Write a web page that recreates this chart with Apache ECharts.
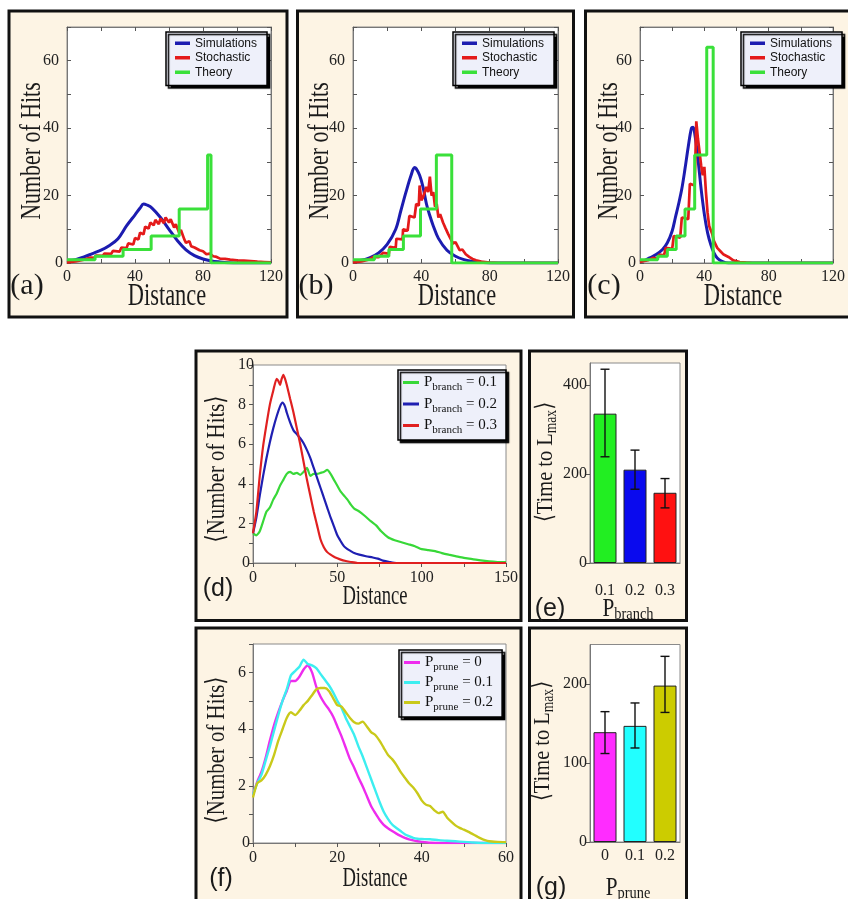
<!DOCTYPE html>
<html><head><meta charset="utf-8">
<script src="https://cdn.jsdelivr.net/npm/echarts@6/dist/echarts.min.js"></script>
<style>html,body{margin:0;padding:0;background:#fff}#c{width:848px;height:899px}</style>
</head><body><div id="c"></div>
<script>
// ---------------- DATA ----------------
// Panels (a)-(c): Number of Hits vs Distance
const simA = [[0,0.8],[5,1],[10,1.8],[15,2.8],[20,3.8],[25,5.2],[30,7.2],[35,11],[40,14.3],[43,16.3],[45,17.5],[47,17.2],[50,16.3],[55,13.5],[60,10],[65,6.6],[70,3.9],[75,2.2],[80,1.2],[85,0.6],[90,0.3],[95,0.1],[100,0],[120,0]];
const stoA = [[0,0.2],[5,0.5],[10,1],[14,1.6],[16,1.5],[17,2.2],[21,2.1],[22,2.8],[26,2.7],[27,3.6],[31,3.4],[32,4.6],[35,4.4],[36,5.8],[39,5.5],[40,7.4],[42,7],[43,9],[45,8.5],[46,10.8],[48,10.2],[49,12],[51,11.2],[52,12.8],[54,11.5],[55,13.2],[57,11.8],[58,13.5],[60,12],[61,13],[63,10.5],[64,11.5],[66,9],[67,9.8],[69,7],[70,6],[72,6.5],[73,5],[75,4.6],[76,4.8],[78,3.8],[80,3.5],[82,2.6],[84,2.8],[86,2],[88,1.8],[90,1.3],[93,1.2],[96,1],[100,0.8],[104,0.7],[108,0.6],[112,0.4],[116,0.3],[120,0.2]];
const theA = [[0,1],[16.5,2],[33,4],[49.5,8],[66,16],[82.7,32],[84.7,0],[120,0]];

const simB = [[0,0.5],[5,0.8],[10,1.6],[15,3],[20,5.5],[25,10],[28,15.5],[31,21],[34,26],[36,28.3],[37,28],[39,26],[41,22.5],[43,17.5],[45,14],[47,11],[50,7.3],[55,3.8],[60,2],[65,1],[70,0.5],[75,0.2],[80,0],[120,0]];
const stoB = [[0,0.2],[5,0.5],[9,1],[12,1.8],[15,1.7],[17.5,3],[21,2.8],[21.5,4.8],[25,4.5],[25.4,7.2],[29,7],[29.3,10],[32,9.6],[33,14],[36,13.5],[37,17.5],[38.5,17],[39,23],[40,18.6],[41,19.5],[43,22.6],[44,21],[45,25.6],[46,20],[47,21],[48,16.7],[49,17.5],[50,13.5],[51,14.5],[52.7,12],[54,10.5],[55.6,8.7],[56.5,9.2],[58.5,5.8],[60,6.2],[62.4,3.8],[64,4],[66,2.6],[68,1.8],[70,1.2],[72,0.8],[75,0.4],[80,0.1],[85,0],[120,0]];
const theB = [[0,1],[12.5,2],[21,4],[29.5,8],[39.5,16],[48.8,32],[57.8,0],[120,0]];

const simC = [[0,0.5],[3,0.8],[6,1.5],[10,2.5],[14,4],[17,6],[20,9.5],[22,13.5],[24,17.5],[26,22],[28,28],[30,34.5],[32,40],[33,40.3],[34,38.5],[36,31],[38,22],[40,14.5],[42,9],[44,5.5],[46,3],[48,1.5],[51,0.5],[55,0],[120,0]];
const stoC = [[0,0.3],[5,0.8],[8,1.5],[11,1.3],[12,2.5],[15,2.3],[16,4.5],[20,4.2],[21,8],[25,7.5],[26,13.5],[30,13],[31,23.5],[34,23],[35,42],[36,37],[37,33],[38,29],[39,26],[40,28.5],[41,21],[42,15],[43,11],[44,10.5],[45,8.5],[46,6.5],[47,6],[48,4.5],[50,3.5],[52,2.5],[55,1.8],[58,0.8],[62,0.3],[66,0.1],[70,0],[120,0]];
const theC = [[0,1],[11,2],[17,4],[22.5,8],[28,16],[34,32],[41.5,64],[45.5,0],[120,0]];

// Panel (d): <Number of Hits> vs Distance for P_branch
const dB1 = [[0,1.5],[2,1.4],[4,1.6],[6,2.1],[8,2.6],[10,2.8],[12,3.2],[14,3.5],[16,3.9],[18,4.2],[20,4.5],[22,4.6],[24,4.5],[26,4.55],[28,4.45],[30,4.6],[32,4.8],[34,4.4],[36,4.5],[38,4.5],[40,4.55],[42,4.6],[44,4.7],[46,4.5],[48,4.2],[50,3.9],[52,3.6],[54,3.4],[56,3.2],[58,2.95],[60,2.75],[63,2.6],[66,2.4],[70,2.1],[73,1.9],[76,1.6],[80,1.3],[84,1.15],[88,1.05],[92,0.95],[96,0.85],[100,0.7],[104,0.65],[108,0.6],[112,0.5],[116,0.42],[120,0.35],[125,0.26],[130,0.2],[135,0.13],[140,0.08],[145,0.05],[150,0.04]];
const dB2 = [[0,1.5],[2,2.3],[4,3.4],[6,4.4],[8,5.3],[10,6.1],[12,6.8],[14,7.4],[16,7.9],[17.5,8.1],[19,7.9],[20,7.6],[22,7.1],[24,6.7],[26,6.5],[28,6.3],[30,6.05],[32,5.7],[34,5.3],[36,4.8],[38,4.3],[40,3.8],[42,3.3],[44,2.8],[46,2.3],[48,1.85],[50,1.4],[52,1.1],[54,0.84],[56,0.7],[58,0.6],[60,0.5],[63,0.42],[67,0.34],[71,0.28],[74,0.22],[77,0.12],[81,0.05],[85,0],[150,0]];
const dB3 = [[0,1.5],[2,2.6],[4,4.4],[6,5.9],[8,7],[10,8],[12,8.7],[14,9.3],[15,9.2],[16,9],[17,9.3],[18,9.5],[19,9.3],[20,9],[22,8.3],[24,7.6],[26,6.8],[28,6],[30,5.1],[32,4.2],[34,3.4],[36,2.6],[38,1.9],[40,1.2],[42,0.8],[44,0.55],[46,0.42],[48,0.32],[50,0.24],[52,0.17],[55,0.1],[58,0.05],[62,0],[150,0]];

// Panel (e): <Time to Lmax> vs P_branch
const eCats = ['0.1','0.2','0.3'];
const eVals = [336, 210, 158];
const eLo = [239, 166, 124];
const eHi = [436, 254, 190];

// Panel (f): <Number of Hits> vs Distance for P_prune
const fP0 = [[0,1.7],[1,2.15],[2,2.5],[3,3.0],[4,3.6],[5,4.15],[6,4.6],[7,5.0],[8,5.35],[9,5.7],[10,5.7],[11,5.85],[12,6.1],[13,6.25],[14,6.0],[15,5.5],[16,5.15],[17,4.9],[18,4.7],[19,4.45],[20,4.1],[21,3.75],[22,3.35],[23,2.95],[24,2.65],[25,2.3],[26,2.0],[27,1.65],[28,1.3],[29,1.05],[30,0.82],[31,0.64],[32,0.52],[33,0.42],[34,0.33],[35,0.25],[36,0.18],[37,0.13],[38,0.09],[39,0.06],[40,0.04],[42,0.01],[45,0],[60,0]];
const fP1 = [[0,1.7],[1,2.1],[2,2.4],[3,2.9],[4,3.4],[5,3.95],[6,4.5],[7,5.0],[8,5.4],[9,5.9],[10,6.05],[11,6.2],[12,6.45],[13,6.3],[14,6.25],[15,6.15],[16,5.95],[17,5.75],[18,5.55],[19,5.3],[20,5.0],[21,4.75],[22,4.4],[23,4.1],[24,3.8],[25,3.4],[26,3.05],[27,2.65],[28,2.25],[29,1.85],[30,1.45],[31,1.1],[32,0.85],[33,0.65],[34,0.53],[35,0.42],[36,0.31],[37,0.24],[38,0.18],[39,0.15],[40,0.14],[42,0.13],[44,0.1],[46,0.08],[48,0.06],[50,0.04],[52,0.02],[55,0],[60,0]];
const fP2 = [[0,1.6],[1,2.1],[2,2.2],[3,2.4],[4,2.7],[5,3.1],[6,3.6],[7,4.0],[8,4.4],[9,4.6],[10,4.5],[11,4.65],[12,4.85],[13,5.0],[14,5.2],[15,5.4],[16,5.45],[17,5.45],[18,5.35],[19,5.1],[20,4.85],[21,4.8],[22,4.6],[23,4.4],[24,4.25],[25,4.2],[26,4.27],[27,4.1],[28,3.9],[29,3.8],[30,3.6],[31,3.35],[32,3.1],[33,2.95],[34,2.75],[35,2.5],[36,2.3],[37,2.1],[38,1.95],[39,1.75],[40,1.5],[41,1.35],[42,1.3],[43,1.15],[44,1.05],[45,1.1],[46,0.9],[47,0.75],[48,0.62],[49,0.53],[50,0.47],[51,0.4],[52,0.32],[53,0.24],[54,0.16],[55,0.1],[56,0.06],[58,0.04],[60,0.03]];

// Panel (g): <Time to Lmax> vs P_prune
const gCats = ['0','0.1','0.2'];
const gVals = [139, 147, 198];
const gLo = [112, 119, 164];
const gHi = [165, 176, 235];

// ---------------- STYLE ----------------
const SERIF = '"Liberation Serif", "Times New Roman", "DejaVu Serif", serif';
const SANS = '"Liberation Sans", Arial, "DejaVu Sans", sans-serif';
const FRAME_FILL = '#fdf4e4';
const LEG_FILL = '#eef0fa';
const C_BLUE = '#1c1cb0', C_RED = '#e41a1a', C_GREEN = '#3ae03a';
const D_GREEN = '#38d838', D_BLUE = '#1f1fb2', D_RED = '#e02020';
const F_MAG = '#ee2cee', F_CYAN = '#3ceef0', F_YEL = '#c9c91a';
const E_COLORS = ['#22ee22', '#0a0aee', '#ff1111'];
const G_COLORS = ['#ff2cff', '#22ffff', '#cccc00'];

const chart = echarts.init(document.getElementById('c'), null, {renderer: 'canvas', width: 848, height: 899});

const gridBox = [
  {left: 67, top: 27, width: 204, height: 236},
  {left: 353, top: 27, width: 205, height: 236},
  {left: 640, top: 27, width: 207, height: 236},
  {left: 253, top: 365, width: 253, height: 198},
  {left: 590, top: 363, width: 90, height: 200},
  {left: 253, top: 644, width: 253, height: 199},
  {left: 590, top: 644.5, width: 90, height: 197.5}
];
const grids = gridBox.map(g => Object.assign({show: true, backgroundColor: '#fff', borderColor: '#8a8a8a', borderWidth: 1, containLabel: false}, g));

function lab(every, maxLab) {
  return v => (Math.abs(v / every - Math.round(v / every)) < 1e-6 && v <= maxLab + 1e-9) ? String(v) : '';
}
function vAxis(gi, pos, min, max, interval, every, maxLab, showLabel, inside, margin) {
  return {
    type: 'value', gridIndex: gi, position: pos, min, max, interval,
    axisLine: {show: true, onZero: false, lineStyle: {color: '#777', width: 1}},
    axisTick: {show: true, inside, length: 4, lineStyle: {color: '#555', width: 1}},
    axisLabel: {show: showLabel, formatter: lab(every, maxLab), fontFamily: SERIF, fontSize: 16, color: '#222', margin: margin,
      alignMinLabel: 'center', alignMaxLabel: 'center', hideOverlap: false},
    splitLine: {show: false}
  };
}

const xAxes = [], yAxes = [];
for (let p = 0; p < 3; p++) {
  xAxes.push(vAxis(p, 'bottom', 0, 120, 20, 40, 120, true, true, 6));
  xAxes.push(vAxis(p, 'top', 0, 120, 20, 40, 120, false, true, 6));
  yAxes.push(vAxis(p, 'left', 0, 70, 10, 20, 60, true, true, 8));
  yAxes.push(vAxis(p, 'right', 0, 70, 10, 20, 60, false, true, 8));
}
xAxes.push(vAxis(3, 'bottom', 0, 150, 25, 50, 150, true, false, 7));
yAxes.push(vAxis(3, 'left', 0, 10, 1, 2, 10, true, false, 7));
xAxes.push({type: 'category', gridIndex: 4, data: eCats, axisLine: {show: true, lineStyle: {color: '#777'}}, axisTick: {show: false},
  axisLabel: {fontFamily: SERIF, fontSize: 16, color: '#222', margin: 20}, splitLine: {show: false}});
yAxes.push({type: 'value', gridIndex: 4, min: 0, max: 450,
  axisLine: {show: true, lineStyle: {color: '#777'}},
  axisTick: {show: true, inside: false, length: 5, customValues: [0, 200, 400], lineStyle: {color: '#555'}},
  axisLabel: {customValues: [0, 200, 400], fontFamily: SERIF, fontSize: 16, color: '#222', margin: 3},
  splitLine: {show: false}});
xAxes.push(vAxis(5, 'bottom', 0, 60, 10, 20, 60, true, false, 7));
yAxes.push(vAxis(5, 'left', 0, 7, 1, 2, 6, true, false, 7));
xAxes.push({type: 'category', gridIndex: 6, data: gCats, axisLine: {show: true, lineStyle: {color: '#777'}}, axisTick: {show: false},
  axisLabel: {fontFamily: SERIF, fontSize: 16, color: '#222', margin: 6}, splitLine: {show: false}});
yAxes.push({type: 'value', gridIndex: 6, min: 0, max: 250,
  axisLine: {show: true, lineStyle: {color: '#777'}},
  axisTick: {show: true, inside: false, length: 5, customValues: [0, 100, 200], lineStyle: {color: '#555'}},
  axisLabel: {customValues: [0, 100, 200], fontFamily: SERIF, fontSize: 16, color: '#222', margin: 3},
  splitLine: {show: false}});

function lineS(name, data, color, ai, width, extra) {
  return Object.assign({type: 'line', name, data, xAxisIndex: ai, yAxisIndex: ai, showSymbol: false, symbol: 'none',
    lineStyle: {color, width}, itemStyle: {color}, emphasis: {disabled: true}, animation: false}, extra || {});
}

const series = [];
const abc = [[simA, stoA, theA], [simB, stoB, theB], [simC, stoC, theC]];
abc.forEach((d, p) => {
  const ai = 2 * p;
  series.push(lineS('Simulations', d[0], C_BLUE, ai, 3, {smooth: 0.35}));
  series.push(lineS('Stochastic', d[1], C_RED, ai, 2.7));
  series.push(lineS('Theory', d[2], C_GREEN, ai, 3, {step: 'end'}));
});
series.push(lineS('P_branch = 0.1', dB1, D_GREEN, 6, 2.2, {smooth: 0.2}));
series.push(lineS('P_branch = 0.2', dB2, D_BLUE, 6, 2.2, {smooth: 0.2}));
series.push(lineS('P_branch = 0.3', dB3, D_RED, 6, 2.2, {smooth: 0.2}));
series.push(lineS('P_prune = 0', fP0, F_MAG, 8, 2.4, {smooth: 0.2}));
series.push(lineS('P_prune = 0.1', fP1, F_CYAN, 8, 2.4, {smooth: 0.2}));
series.push(lineS('P_prune = 0.2', fP2, F_YEL, 8, 2.4, {smooth: 0.2}));

function barS(vals, colors, ai) {
  return {type: 'bar', xAxisIndex: ai, yAxisIndex: ai, barWidth: 23, animation: false,
    data: vals.map((v, i) => ({value: v, itemStyle: {color: colors[i], borderColor: '#222', borderWidth: 1}})),
    emphasis: {disabled: true}};
}
function errRender(params, api) {
  const x = api.value(0), lo = api.value(1), hi = api.value(2);
  const a = api.coord([x, lo]), b = api.coord([x, hi]);
  const w = 4.5, st = {stroke: '#111', lineWidth: 1.4};
  return {type: 'group', children: [
    {type: 'line', shape: {x1: a[0], y1: a[1], x2: b[0], y2: b[1]}, style: st},
    {type: 'line', shape: {x1: a[0] - w, y1: a[1], x2: a[0] + w, y2: a[1]}, style: st},
    {type: 'line', shape: {x1: b[0] - w, y1: b[1], x2: b[0] + w, y2: b[1]}, style: st}
  ]};
}
function errS(lo, hi, ai) {
  return {type: 'custom', xAxisIndex: ai, yAxisIndex: ai, renderItem: errRender, animation: false, z: 5,
    encode: {x: 0, y: [1, 2]}, data: lo.map((l, i) => [i, l, hi[i]])};
}
series.push(barS(eVals, E_COLORS, 7));
series.push(errS(eLo, eHi, 7));
series.push(barS(gVals, G_COLORS, 9));
series.push(errS(gLo, gHi, 9));

function legABC(left) {
  return {left, top: 32, orient: 'vertical', data: ['Simulations', 'Stochastic', 'Theory'], icon: 'rect',
    itemWidth: 15, itemHeight: 3.5, itemGap: 0, padding: [4, 10, 6, 9], backgroundColor: LEG_FILL,
    borderColor: '#000', borderWidth: 1.5, shadowColor: '#000', shadowBlur: 1, shadowOffsetX: 2.5, shadowOffsetY: 2.5,
    itemStyle: {borderWidth: 0}, selectedMode: false,
    textStyle: {fontFamily: SANS, fontSize: 12, color: '#111', lineHeight: 14.5}};
}
const subRich = {
  p: {fontFamily: SERIF, fontSize: 15, color: '#111', lineHeight: 18},
  s: {fontFamily: SERIF, fontSize: 11, color: '#111', lineHeight: 18, padding: [10, 0, 0, 0]}
};
function legSub(left, top, names, gap) {
  return {left, top, orient: 'vertical', data: names, icon: 'rect', itemWidth: 16, itemHeight: 3, itemGap: gap,
    padding: [2, 9, 4, 5], backgroundColor: LEG_FILL, borderColor: '#000', borderWidth: 1.5,
    shadowColor: '#000', shadowBlur: 1, shadowOffsetX: 2.5, shadowOffsetY: 2.5, itemStyle: {borderWidth: 0}, selectedMode: false,
    formatter: name => {
      const m = name.match(/^P_(\w+) = (.*)$/);
      return '{p|P}{s|' + m[1] + '}{p| = ' + m[2] + '}';
    },
    textStyle: {fontFamily: SERIF, fontSize: 15, color: '#111', rich: subRich}};
}
const legends = [legABC(166), legABC(453), legABC(741),
  legSub(398, 370, ['P_branch = 0.1', 'P_branch = 0.2', 'P_branch = 0.3'], 0.5),
  legSub(399, 650, ['P_prune = 0', 'P_prune = 0.1', 'P_prune = 0.2'], -1)];

function frame(x, y, w, h) {
  return {type: 'rect', z: -10, silent: true, shape: {x, y, width: w, height: h}, style: {fill: FRAME_FILL, stroke: '#111', lineWidth: 3}};
}
function txt(text, x, y, size, family, opts) {
  opts = opts || {};
  return {type: 'text', x, y, z: 10, silent: true, scaleX: opts.sx || 1, rotation: opts.rot || 0,
    style: {text, fontSize: size, fontFamily: family, fill: '#1a1a1a', align: 'center', verticalAlign: 'middle', rich: opts.rich}};
}
const R = Math.PI / 2;
const timeRich = {
  a: {fontFamily: SERIF, fontSize: 24, fill: '#1a1a1a', lineHeight: 26},
  s: {fontFamily: SERIF, fontSize: 16, fill: '#1a1a1a', lineHeight: 26, padding: [12, 0, 0, 0]}
};
const pRich = {
  a: {fontFamily: SERIF, fontSize: 25, fill: '#1a1a1a', lineHeight: 24},
  s: {fontFamily: SERIF, fontSize: 17, fill: '#1a1a1a', lineHeight: 24, padding: [11, 0, 0, 0]}
};
const graphics = [
  frame(9, 11, 278, 306), frame(297.5, 11, 276, 306), frame(585.5, 11, 280, 306),
  frame(196, 351, 325, 269.5), frame(529.5, 351, 157, 269.5),
  frame(196, 628, 325, 280), frame(529.5, 628, 157, 280),
  txt('(a)', 27, 286, 30, SERIF), txt('(b)', 316, 286, 30, SERIF), txt('(c)', 604, 286, 30, SERIF),
  txt('Distance', 167, 297, 32, SERIF, {sx: 0.7}), txt('Distance', 457, 297, 32, SERIF, {sx: 0.7}), txt('Distance', 743, 297, 32, SERIF, {sx: 0.7}),
  txt('Number of Hits', 32, 151, 30, SERIF, {sx: 0.73, rot: R}),
  txt('Number of Hits', 320, 151, 30, SERIF, {sx: 0.73, rot: R}),
  txt('Number of Hits', 609, 151, 30, SERIF, {sx: 0.73, rot: R}),
  txt('(d)', 218, 589, 25, SANS), txt('Distance', 375, 597, 27, SERIF, {sx: 0.69}),
  txt('⟨Number of Hits⟩', 217, 469, 26, SERIF, {sx: 0.8, rot: R}),
  txt('(f)', 221, 879, 25, SANS), txt('Distance', 375, 879, 27, SERIF, {sx: 0.69}),
  txt('⟨Number of Hits⟩', 217, 750, 26, SERIF, {sx: 0.8, rot: R}),
  txt('(e)', 550, 609, 25, SANS), txt('(g)', 551, 888, 25, SANS),
  txt('{a|⟨Time to L}{s|max}{a|⟩}', 546, 462, 24, SERIF, {sx: 0.85, rot: R, rich: timeRich}),
  txt('{a|⟨Time to L}{s|max}{a|⟩}', 543, 741, 24, SERIF, {sx: 0.85, rot: R, rich: timeRich}),
  txt('{a|P}{s|branch}', 628, 609, 25, SERIF, {sx: 0.85, rich: pRich}),
  txt('{a|P}{s|prune}', 628, 888, 25, SERIF, {sx: 0.85, rich: pRich})
];

chart.setOption({
  animation: false,
  backgroundColor: '#fff',
  grid: grids,
  xAxis: xAxes,
  yAxis: yAxes,
  legend: legends,
  series,
  graphic: {elements: graphics}
});
</script></body></html>
